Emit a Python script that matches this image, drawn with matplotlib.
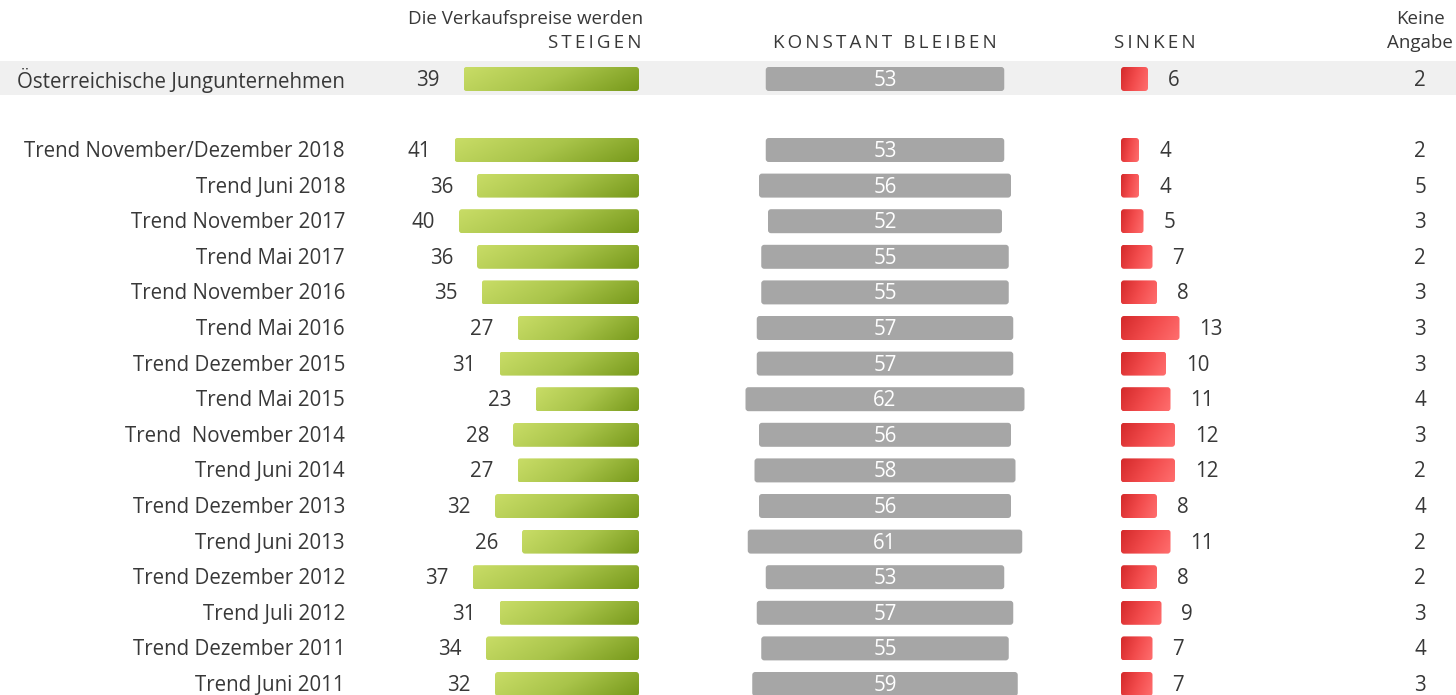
import numpy as np
import matplotlib.pyplot as plt
from matplotlib.patches import FancyBboxPatch, Rectangle
from matplotlib.colors import LinearSegmentedColormap

# ======================================================
# DATA
# ======================================================

categories = [
    "Österreichische Jungunternehmen",
    "Trend November/Dezember 2018",
    "Trend Juni 2018",
    "Trend November 2017",
    "Trend Mai 2017",
    "Trend November 2016",
    "Trend Mai 2016",
    "Trend Dezember 2015",
    "Trend Mai 2015",
    "Trend  November 2014",
    "Trend Juni 2014",
    "Trend Dezember 2013",
    "Trend Juni 2013",
    "Trend Dezember 2012",
    "Trend Juli 2012",
    "Trend Dezember 2011",
    "Trend Juni 2011",
]

steigen = [39, 41, 36, 40, 36, 35, 27, 31, 23, 28, 27, 32, 26, 37, 31, 34, 32]
konstant = [53, 53, 56, 52, 55, 55, 57, 57, 62, 56, 58, 56, 61, 53, 57, 55, 59]
sinken = [6, 4, 4, 5, 7, 8, 13, 10, 11, 12, 12, 8, 11, 8, 9, 7, 7]
keine = [2, 2, 5, 3, 2, 3, 3, 3, 4, 3, 2, 4, 2, 2, 3, 4, 3]

# ======================================================
# LAYOUT
# ======================================================

W, H = 1456, 695
UNIT = 4.5           # px per percent
BAR_H = 24
GREEN_RIGHT = 639
GREY_CENTER = 885
RED_LEFT = 1121
KEINE_X = 1420
LABEL_RIGHT = 345
DY = 1.5             # text baseline nudge

row_y = [79] + [150 + i * 35.6 for i in range(len(categories) - 1)]

TEXT = "#383838"
FONT = ["Open Sans", "DejaVu Sans"]
plt.rcParams["font.family"] = FONT

green_cmap = LinearSegmentedColormap.from_list("g", ["#c8dc66", "#a9c44a", "#789a1c"])
red_cmap = LinearSegmentedColormap.from_list("r", ["#d42a2b", "#f24b4c", "#ff6e6e"])

fig = plt.figure(figsize=(W / 100, H / 100), dpi=100)
ax = fig.add_axes([0, 0, 1, 1])
ax.set_xlim(0, W)
ax.set_ylim(H, 0)
ax.axis("off")


def gradient_bar(x0, y0, w, h, cmap=None, color=None):
    patch = FancyBboxPatch((x0, y0), w, h,
                           boxstyle="round,pad=0,rounding_size=3",
                           linewidth=0, facecolor=color if color else "none")
    ax.add_patch(patch)
    if cmap is not None:
        xx, yy = np.meshgrid(np.linspace(0, 1, 64), np.linspace(0, 1, 16))
        grad = 0.8 * xx + 0.2 * yy
        im = ax.imshow(grad, cmap=cmap, extent=(x0, x0 + w, y0 + h, y0),
                       aspect="auto", zorder=2, interpolation="bilinear")
        im.set_clip_path(patch)
    return patch


def spaced(s):
    return "\u2009".join(s)


# highlighted first row
ax.add_patch(Rectangle((0, 61), W, 34, facecolor="#f0f0f0", edgecolor="none", zorder=0))

FS = 14.8

for i, cat in enumerate(categories):
    y = row_y[i]
    top = y - BAR_H / 2
    ty = y + DY

    ax.text(LABEL_RIGHT, ty, cat, ha="right", va="center", fontsize=FS, color=TEXT)

    # steigen
    w = steigen[i] * UNIT
    gradient_bar(GREEN_RIGHT - w, top, w, BAR_H, cmap=green_cmap)
    ax.text(GREEN_RIGHT - w - 24, ty, str(steigen[i]), ha="right", va="center",
            fontsize=FS, color=TEXT)

    # konstant
    w = konstant[i] * UNIT
    gradient_bar(GREY_CENTER - w / 2, top, w, BAR_H, color="#a6a6a6")
    ax.text(GREY_CENTER, ty, str(konstant[i]), ha="center", va="center",
            fontsize=FS, color="white", zorder=3)

    # sinken
    w = sinken[i] * UNIT
    gradient_bar(RED_LEFT, top, w, BAR_H, cmap=red_cmap)
    ax.text(RED_LEFT + w + 20, ty, str(sinken[i]), ha="left", va="center",
            fontsize=FS, color=TEXT)

    # keine angabe
    ax.text(KEINE_X, ty, str(keine[i]), ha="center", va="center", fontsize=FS, color=TEXT)

# headers
HFS = 13.5
ax.text(643, 19, "Die Verkaufspreise werden", ha="right", va="center", fontsize=HFS, color=TEXT)
ax.text(641, 43, spaced("STEIGEN"), ha="right", va="center", fontsize=HFS, color=TEXT)
ax.text(GREY_CENTER, 43, spaced("KONSTANT BLEIBEN"), ha="center", va="center",
        fontsize=HFS, color=TEXT)
ax.text(1114, 43, spaced("SINKEN"), ha="left", va="center", fontsize=HFS, color=TEXT)
ax.text(KEINE_X, 19, "Keine", ha="center", va="center", fontsize=HFS, color=TEXT)
ax.text(KEINE_X, 43, "Angabe", ha="center", va="center", fontsize=HFS, color=TEXT)

plt.savefig("out.png", dpi=100)
